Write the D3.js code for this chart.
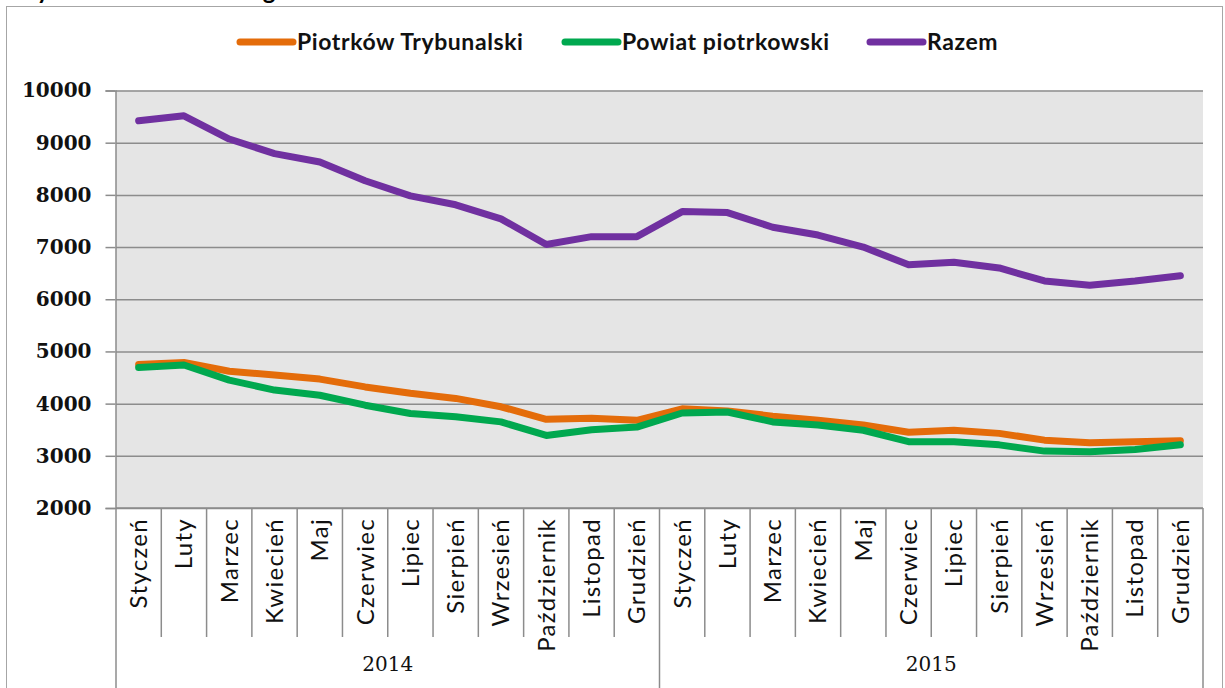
<!DOCTYPE html>
<html>
<head>
<meta charset="utf-8">
<script src="https://cdn.jsdelivr.net/npm/d3@7"></script>
<style>
  body { margin: 0; background: #fff; }
  svg { display: block; }
</style>
</head>
<body>
<div id="grafico-container"></div>
<script>
// Datos del gráfico
const meses = ['Styczeń', 'Luty', 'Marzec', 'Kwiecień', 'Maj', 'Czerwiec', 'Lipiec', 'Sierpień', 'Wrzesień', 'Październik', 'Listopad', 'Grudzień'];
const lata = ['2014', '2015'];
const series = ['Piotrków Trybunalski', 'Powiat piotrkowski', 'Razem'];
const piotrkow = [4750, 4790, 4620, 4550, 4470, 4320, 4200, 4100, 3940, 3700, 3720, 3680,
                  3900, 3860, 3760, 3680, 3590, 3450, 3490, 3430, 3300, 3250, 3270, 3290];
const powiat = [4690, 4740, 4450, 4260, 4160, 3970, 3810, 3750, 3650, 3390, 3500, 3550,
                3820, 3840, 3650, 3590, 3490, 3270, 3270, 3210, 3090, 3080, 3120, 3210];
const razem = [9420, 9515, 9070, 8790, 8630, 8270, 7980, 7810, 7540, 7050, 7200, 7200,
               7680, 7660, 7380, 7230, 7000, 6660, 6710, 6600, 6350, 6270, 6350, 6450];
const yTicks = [2000, 3000, 4000, 5000, 6000, 7000, 8000, 9000, 10000];
const colores = ['#e46c0a', '#00a84f', '#7030a0'];

const width = 1225;
const height = 688;
const margin = { top: 90.5, right: 22, bottom: 180, left: 116 };

const svg = d3.select('#grafico-container')
    .append('svg')
    .attr('width', width)
    .attr('height', height);

// Título (cortado arriba, como en el original)
svg.append('text')
    .attr('x', 12)
    .attr('y', -1)
    .attr('font-family', 'Lato')
    .attr('font-weight', 'bold')
    .attr('font-size', 24)
    .text('Wykres 3. Bezrobotni ogółem');

// Marco exterior
svg.append('rect')
    .attr('x', 6.5).attr('y', 6.5)
    .attr('width', 1216).attr('height', 700)
    .attr('fill', 'none')
    .attr('stroke', '#a6a6a6');

// Categorías: 24 meses
const categorias = d3.range(lata.length * meses.length);

const x = d3.scaleBand()
    .domain(categorias)
    .range([margin.left, width - margin.right]);

const y = d3.scaleLinear()
    .domain([2000, 10000])
    .range([height - margin.bottom, margin.top]);

// Fondo del área de trazado
svg.append('rect')
    .attr('x', margin.left)
    .attr('y', margin.top)
    .attr('width', width - margin.right - margin.left)
    .attr('height', y(2000) - margin.top)
    .attr('fill', '#e5e5e5');

// Líneas de cuadrícula y eje Y
svg.append('g')
    .attr('transform', `translate(${margin.left}, 0)`)
    .call(d3.axisLeft(y).tickValues(yTicks).tickSize(-(width - margin.right - margin.left)).tickFormat(''))
    .call(g => g.select('.domain').remove())
    .call(g => g.selectAll('line').attr('stroke', '#8c8c8c').attr('stroke-width', 1.5));

const ejeY = svg.append('g')
    .attr('transform', `translate(${margin.left - 0.5}, 0)`)
    .call(d3.axisLeft(y).tickValues(yTicks).tickSize(10).tickPadding(14).tickFormat(d3.format('d')));
ejeY.select('.domain').attr('stroke', '#8c8c8c').attr('stroke-width', 1.5);
ejeY.selectAll('line').attr('stroke', '#8c8c8c').attr('stroke-width', 1.5);
ejeY.selectAll('text')
    .attr('font-family', 'DejaVu Serif')
    .attr('font-weight', 'bold')
    .attr('font-size', 20)
    .attr('fill', '#111');

// Eje X: divisiones de meses y años
const yBase = y(2000);
const ejeX = svg.append('g');

ejeX.append('line')
    .attr('x1', margin.left).attr('x2', width - margin.right)
    .attr('y1', yBase).attr('y2', yBase)
    .attr('stroke', '#8c8c8c').attr('stroke-width', 1.5);

ejeX.selectAll('.div-mes')
    .data(categorias.slice(1))
    .enter()
    .append('line')
    .attr('x1', d => x(d)).attr('x2', d => x(d))
    .attr('y1', yBase)
    .attr('y2', d => d % meses.length === 0 ? height : 637)
    .attr('stroke', '#8c8c8c').attr('stroke-width', 1.5);

ejeX.selectAll('.div-borde')
    .data([margin.left, width - margin.right])
    .enter()
    .append('line')
    .attr('x1', d => d).attr('x2', d => d)
    .attr('y1', yBase).attr('y2', height)
    .attr('stroke', '#8c8c8c').attr('stroke-width', 1.5);

ejeX.selectAll('.mes')
    .data(categorias)
    .enter()
    .append('text')
    .attr('transform', d => `translate(${x(d) + x.bandwidth() / 2}, ${yBase + 10}) rotate(-90)`)
    .attr('text-anchor', 'end')
    .attr('dy', '0.35em')
    .attr('font-family', 'Lato')
    .attr('font-size', 24)
    .attr('letter-spacing', 1.3)
    .attr('fill', '#111')
    .text(d => meses[d % meses.length]);

ejeX.selectAll('.anio')
    .data(lata)
    .enter()
    .append('text')
    .attr('x', (d, i) => (x(i * meses.length) + x((i + 1) * meses.length - 1) + x.bandwidth()) / 2)
    .attr('y', 671)
    .attr('text-anchor', 'middle')
    .attr('font-family', 'DejaVu Serif')
    .attr('font-size', 20)
    .attr('fill', '#111')
    .text(d => d);

// Líneas de las series
const valores = [piotrkow, powiat, razem];
const linea = d3.line()
    .x((d, i) => x(i) + x.bandwidth() / 2)
    .y(d => y(d));

svg.selectAll('.serie')
    .data(valores)
    .enter()
    .append('path')
    .attr('d', d => linea(d))
    .attr('fill', 'none')
    .attr('stroke', (d, i) => colores[i])
    .attr('stroke-width', 7)
    .attr('stroke-linejoin', 'round')
    .attr('stroke-linecap', 'round');

// Leyenda
const leyendaX = [237, 562, 867];
const leyenda = svg.selectAll('.leyenda')
    .data(series)
    .enter()
    .append('g')
    .attr('transform', (d, i) => `translate(${leyendaX[i]}, 42)`);

leyenda.append('line')
    .attr('x1', 3).attr('x2', 56)
    .attr('stroke', (d, i) => colores[i])
    .attr('stroke-width', 7)
    .attr('stroke-linecap', 'round');

leyenda.append('text')
    .attr('x', 60)
    .attr('dy', '0.35em')
    .attr('font-family', 'Lato')
    .attr('font-weight', 'bold')
    .attr('font-size', 23)
    .attr('letter-spacing', 0.6)
    .attr('fill', '#111')
    .text(d => d);
</script>
</body>
</html>
